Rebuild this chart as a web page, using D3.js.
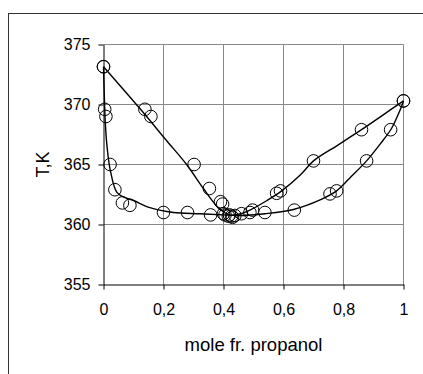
<!DOCTYPE html>
<html><head><meta charset="utf-8">
<script src="https://cdn.jsdelivr.net/npm/d3@7"></script>
<style>body{margin:0;background:#fff}svg{display:block}text{font-family:"Liberation Sans",Arial,sans-serif;fill:#000}</style>
</head><body><svg id="c" width="423" height="374"></svg>
<script>
// Data
const xTicks = [0, 0.2, 0.4, 0.6, 0.8, 1];
const xTickLabels = ["0", "0,2", "0,4", "0,6", "0,8", "1"];
const yTicks = [355, 360, 365, 370, 375];

// experimental points
const liquidX = [0, 0.004, 0.008, 0.022, 0.038, 0.063, 0.088, 0.20, 0.28, 0.357, 0.405, 0.416, 0.427, 0.438, 0.538, 0.636, 0.755, 0.777, 0.877, 0.957, 1];
const liquidT = [373.15, 369.6, 369.0, 365.0, 362.9, 361.8, 361.6, 361.0, 361.0, 360.8, 360.8, 360.7, 360.7, 360.75, 361.0, 361.2, 362.55, 362.8, 365.3, 367.9, 370.3];
const vaporX = [0, 0.138, 0.158, 0.302, 0.353, 0.39, 0.397, 0.40, 0.42, 0.43, 0.46, 0.488, 0.497, 0.577, 0.59, 0.70, 0.86, 1];
const vaporT = [373.15, 369.6, 369.0, 365.0, 363.0, 361.9, 361.7, 360.9, 360.8, 360.6, 360.9, 361.0, 361.2, 362.6, 362.8, 365.3, 367.9, 370.3];

// fitted curves
const bubbleX = [0, 0.003, 0.006, 0.011, 0.022, 0.044, 0.066, 0.1, 0.155, 0.233, 0.322, 0.4, 0.45, 0.538, 0.633, 0.722, 0.777, 0.822, 0.877, 0.922, 0.96, 0.988, 1];
const bubbleT = [373.15, 370.5, 368.5, 366.7, 364.6, 362.7, 362.3, 362.0, 361.4, 361.0, 360.9, 360.8, 360.75, 360.9, 361.25, 362.05, 362.8, 363.9, 365.3, 366.7, 368.0, 369.5, 370.3];
const dewX = [0, 0.122, 0.21, 0.277, 0.333, 0.383, 0.42, 0.45, 0.488, 0.545, 0.594, 0.655, 0.70, 0.78, 0.86, 0.93, 1];
const dewT = [373.15, 369.64, 367.0, 365.0, 363.0, 361.4, 360.8, 360.85, 361.2, 362.0, 362.8, 364.1, 365.3, 366.6, 367.9, 369.1, 370.3];

const svg = d3.select("#c");
const L = 103.5, R = 403.5, T = 44.5, B = 284.5;
const x = d3.scaleLinear().domain([0, 1]).range([L, R]);
const y = d3.scaleLinear().domain([355, 375]).range([B, T]);

// outer frame
svg.append("rect").attr("x", 8.5).attr("y", 13.5).attr("width", 440).attr("height", 400)
  .attr("fill", "none").attr("stroke", "#333").attr("stroke-width", 1);

// gridlines
const g = svg.append("g");
g.selectAll(".hg").data(yTicks.slice(1)).join("line")
  .attr("x1", L).attr("x2", R).attr("y1", d => y(d)).attr("y2", d => y(d))
  .attr("stroke", "#888").attr("stroke-width", 1);
g.selectAll(".vg").data(xTicks.slice(1)).join("line")
  .attr("x1", d => x(d)).attr("x2", d => x(d)).attr("y1", T).attr("y2", B)
  .attr("stroke", "#888").attr("stroke-width", 1);

// axes
const xAxis = d3.axisBottom(x).tickValues(xTicks).tickFormat((d, i) => xTickLabels[i]).tickSize(5).tickPadding(14).tickSizeOuter(0);
const yAxis = d3.axisLeft(y).tickValues(yTicks).tickSize(5).tickPadding(8).tickSizeOuter(0);
const gx = svg.append("g").attr("transform", `translate(0,${B})`).call(xAxis);
const gy = svg.append("g").attr("transform", `translate(${L},0)`).call(yAxis);
[gx, gy].forEach(a => {
  a.select(".domain").attr("stroke", "#000");
  a.selectAll(".tick line").attr("stroke", "#000");
  a.selectAll("text").attr("font-size", 16).attr("font-family", '"Liberation Sans",Arial,sans-serif').attr("fill", "#000");
});

// curves
const line = d3.line().x(d => x(d[0])).y(d => y(d[1])).curve(d3.curveCatmullRom.alpha(0.5));
svg.append("path").attr("d", line(bubbleX.map((v, i) => [v, bubbleT[i]])))
  .attr("fill", "none").attr("stroke", "#000").attr("stroke-width", 1.4);
svg.append("path").attr("d", line(dewX.map((v, i) => [v, dewT[i]])))
  .attr("fill", "none").attr("stroke", "#000").attr("stroke-width", 1.4);

// markers
const pts = liquidX.map((v, i) => [v, liquidT[i]]).concat(vaporX.map((v, i) => [v, vaporT[i]]));
svg.append("g").selectAll("circle").data(pts).join("circle")
  .attr("cx", d => x(d[0])).attr("cy", d => y(d[1])).attr("r", 6.3)
  .attr("fill", "none").attr("stroke", "#000").attr("stroke-width", 1);

// titles
svg.append("text").attr("x", (L + R) / 2).attr("y", 351).attr("text-anchor", "middle")
  .attr("font-size", 18.5).text("mole fr. propanol");
svg.append("text").attr("transform", `translate(49,${(T + B) / 2}) rotate(-90)`).attr("text-anchor", "middle")
  .attr("font-size", 18).text("T,K");
</script></body></html>
